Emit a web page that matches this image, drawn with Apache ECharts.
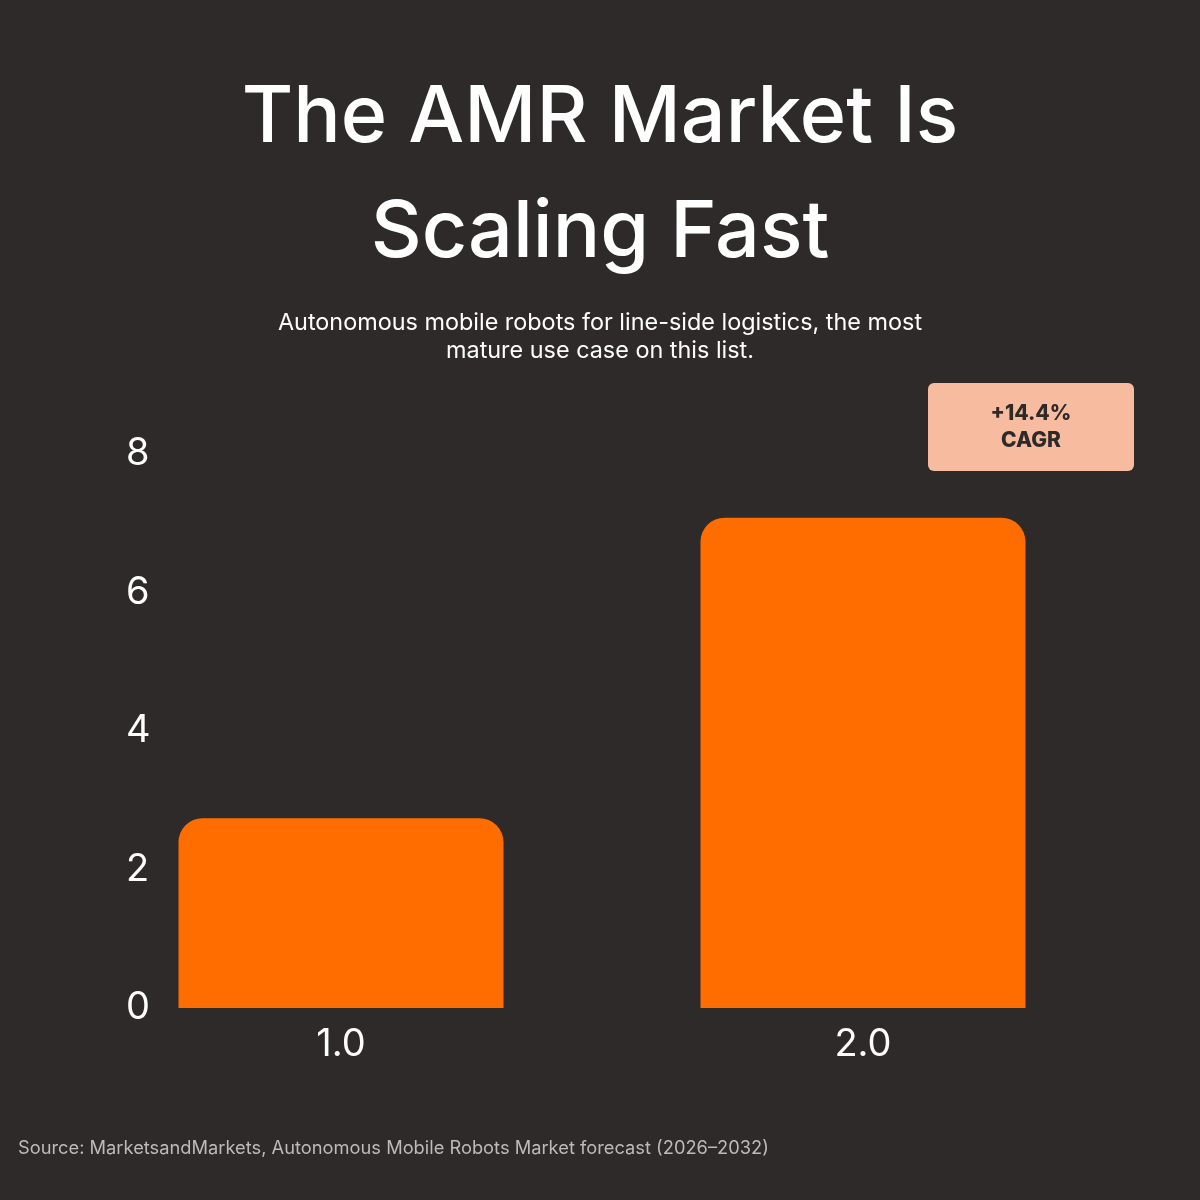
<!DOCTYPE html>
<html lang="en">
<head>
<meta charset="UTF-8">
<title>AMR Market</title>
<script src="https://cdn.jsdelivr.net/npm/echarts@6/dist/echarts.min.js"></script>
<style>
  html, body { margin: 0; padding: 0; background: #2d2a29; }
  #chart { width: 1200px; height: 1200px; }
</style>
</head>
<body>
<div id="chart"></div>
<script>
// data
var categories = ['1.0', '2.0'];
var marketValues = [2.74, 7.08];
var yTicks = [0, 2, 4, 6, 8];
var cagrLabel = ['+14.4%', 'CAGR'];

var myChart = echarts.init(document.getElementById('chart'));

var option = {
    backgroundColor: '#2d2a29',
    title: [
        {
            text: 'Source: MarketsandMarkets, Autonomous Mobile Robots Market forecast (2026\u20132032)',
            left: 13,
            top: 1135,
            textStyle: {
                color: '#bdbab8',
                fontFamily: 'Inter',
                fontWeight: 400,
                fontSize: 18.3
            }
        }
    ],
    grid: {
        left: 80,
        right: 76,
        top: 454,
        bottom: 192,
        containLabel: false
    },
    xAxis: {
        type: 'category',
        data: categories,
        axisLine: { show: false },
        axisTick: { show: false },
        axisLabel: {
            color: '#ffffff',
            fontFamily: 'Inter',
            fontSize: 38,
            margin: 18
        }
    },
    yAxis: {
        type: 'value',
        min: yTicks[0],
        max: yTicks[yTicks.length - 1],
        interval: 2,
        splitLine: { show: false },
        axisLine: { show: false },
        axisTick: { show: false },
        axisLabel: {
            inside: true,
            margin: 46,
            color: '#ffffff',
            fontFamily: 'Inter',
            fontSize: 38
        }
    },
    series: [
        {
            type: 'bar',
            data: marketValues,
            barWidth: 325,
            itemStyle: {
                color: '#ff6d00',
                borderRadius: [24, 24, 0, 0]
            }
        }
    ],
    graphic: [
        // title, two centred lines
        {
            type: 'text',
            style: {
                x: 600,
                y: 61,
                text: 'The AMR Market Is\nScaling Fast',
                fill: '#ffffff',
                font: '500 79px Inter',
                lineHeight: 115,
                align: 'center',
                verticalAlign: 'top'
            }
        },
        {
            type: 'text',
            style: {
                x: 600,
                y: 309,
                text: 'Autonomous mobile robots for line-side logistics, the most\nmature use case on this list.',
                fill: '#ffffff',
                font: '400 23.4px Inter',
                lineHeight: 28,
                align: 'center',
                verticalAlign: 'top'
            }
        },
        {
            type: 'group',
            left: 928,
            top: 383,
            children: [
                {
                    type: 'rect',
                    shape: { x: 0, y: 0, width: 206, height: 88, r: 6 },
                    style: { fill: '#f7bc9f' }
                },
                {
                    type: 'text',
                    style: {
                        x: 103,
                        y: 44,
                        text: cagrLabel.join('\n'),
                        fill: '#2d2a29',
                        font: '800 21px Inter',
                        lineHeight: 27,
                        align: 'center',
                        verticalAlign: 'middle'
                    }
                }
            ]
        }
    ]
};

myChart.setOption(option);
</script>
</body>
</html>
